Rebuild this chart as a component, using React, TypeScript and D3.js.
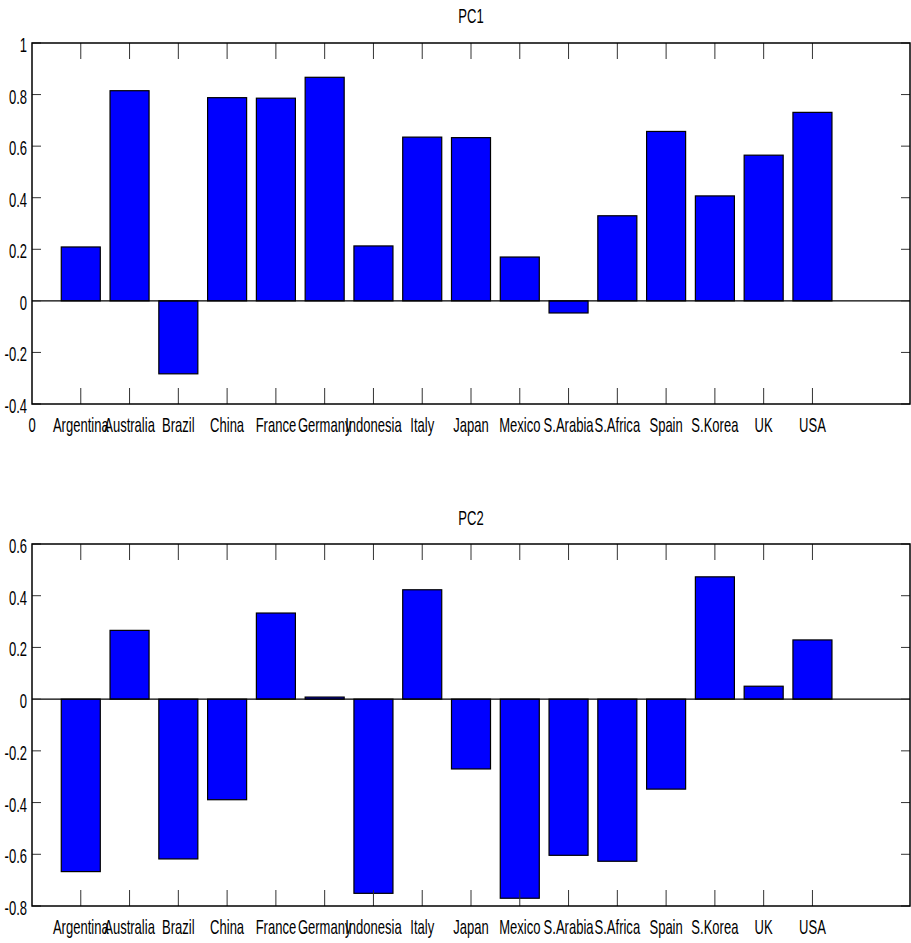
import React from "react";
import * as d3 from "d3";

const countries = ["Argentina", "Australia", "Brazil", "China", "France", "Germany", "Indonesia", "Italy", "Japan", "Mexico", "S.Arabia", "S.Africa", "Spain", "S.Korea", "UK", "USA"];
const pc1Values = [0.209, 0.815, -0.283, 0.788, 0.786, 0.867, 0.213, 0.635, 0.633, 0.17, -0.047, 0.33, 0.657, 0.407, 0.565, 0.731];
const pc2Values = [-0.667, 0.266, -0.618, -0.389, 0.333, 0.008, -0.751, 0.423, -0.27, -0.77, -0.604, -0.627, -0.348, 0.473, 0.05, 0.229];
const pc1Ticks = [1, 0.8, 0.6, 0.4, 0.2, 0, -0.2, -0.4];
const pc2Ticks = [0.6, 0.4, 0.2, 0, -0.2, -0.4, -0.6, -0.8];

const W = 911;
const H = 943;
const FONT = "'Liberation Sans', Arial, Helvetica, sans-serif";
const FS = 21;
const SX = 0.62;

function fmt(v: number): string {
  if (Math.abs(v) < 1e-9) return "0";
  return (v < 0 ? "-" : "") + String(Math.abs(v));
}

function Label(props: { x: number; y: number; text: string; anchor?: string }) {
  const { x, y, text, anchor } = props;
  return (
    <text
      transform={`translate(${x},${y}) scale(${SX},1)`}
      textAnchor={anchor || "middle"}
      fontFamily={FONT}
      fontSize={FS}
      fill="#000"
    >
      {text}
    </text>
  );
}

function Panel(props: {
  title: string;
  values: number[];
  ticks: number[];
  domain: [number, number];
  top: number;
  bottom: number;
  titleY: number;
  showZero: boolean;
}) {
  const { title, values, ticks, domain, top, bottom, titleY, showZero } = props;
  const left = 32;
  const right = 910;
  const x = d3.scaleLinear().domain([0, 18]).range([left, right]);
  const y = d3.scaleLinear().domain(domain).range([bottom, top]);
  const bw = 0.8 * (x(1) - x(0));
  const xt = 16;
  const yt = 9;
  return (
    <g>
      <Label x={(left + right) / 2} y={titleY} text={title} />
      {values.map((v, i) => {
        const cx = x(i + 1);
        const y0 = y(0);
        const y1 = y(v);
        return (
          <rect
            key={i}
            x={cx - bw / 2}
            y={Math.min(y0, y1)}
            width={bw}
            height={Math.abs(y1 - y0)}
            fill="#0000ff"
            stroke="#000"
            strokeWidth={1.2}
          />
        );
      })}
      <line x1={left} x2={right} y1={y(0)} y2={y(0)} stroke="#000" strokeWidth={1.2} />
      {countries.map((c, i) => {
        const cx = x(i + 1);
        return (
          <g key={c}>
            <line x1={cx} x2={cx} y1={bottom} y2={bottom - xt} stroke="#333" strokeWidth={1} />
            <line x1={cx} x2={cx} y1={top} y2={top + xt} stroke="#333" strokeWidth={1} />
            <Label x={cx} y={bottom + 28} text={c} />
          </g>
        );
      })}
      {showZero && <Label x={x(0)} y={bottom + 28} text="0" />}
      {ticks.map((t) => (
        <g key={t}>
          <line x1={left} x2={left + yt} y1={y(t)} y2={y(t)} stroke="#333" strokeWidth={1} />
          <line x1={right} x2={right - yt} y1={y(t)} y2={y(t)} stroke="#333" strokeWidth={1} />
          <Label x={left - 5} y={y(t) + 9} text={fmt(t)} anchor="end" />
        </g>
      ))}
      <rect x={left} y={top} width={right - left} height={bottom - top} fill="none" stroke="#000" strokeWidth={1.5} />
    </g>
  );
}

export default function App() {
  return (
    <svg width={W} height={H} style={{ position: "absolute", left: 0, top: 0, background: "#fff" }}>
      <rect x={0} y={0} width={W} height={H} fill="#fff" />
      <Panel title="PC1" values={pc1Values} ticks={pc1Ticks} domain={[-0.4, 1]} top={43} bottom={404} titleY={23} showZero={true} />
      <Panel title="PC2" values={pc2Values} ticks={pc2Ticks} domain={[-0.8, 0.6]} top={544} bottom={906} titleY={525} showZero={false} />
    </svg>
  );
}
